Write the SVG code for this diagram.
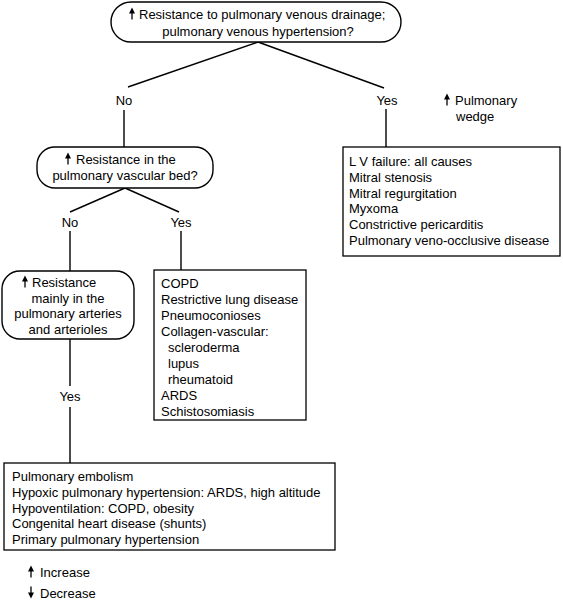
<svg xmlns="http://www.w3.org/2000/svg" width="563" height="601" viewBox="0 0 563 601">
<style>
text{font-family:"Liberation Sans",Arial,sans-serif;font-size:13px;fill:#000}
.c{text-anchor:middle}
.n{fill:#fff;stroke:#000;stroke-width:1.4}
.b{fill:#fff;stroke:#000;stroke-width:1.3}
.l{stroke:#000;stroke-width:1.4;fill:none}
.as{stroke:#000;stroke-width:1.3}
</style>
<defs>
<g id="up"><line class="as" x1="0" y1="0.5" x2="0" y2="-7"/><polygon points="-3,-5.5 0,-11.5 3,-5.5" fill="#000"/></g>
<g id="down"><line class="as" x1="0" y1="-11.5" x2="0" y2="-4"/><polygon points="-3,-5.5 0,0.5 3,-5.5" fill="#000"/></g>
</defs>
<rect width="563" height="601" fill="#fff"/>
<g id="connectors">
<path class="l" d="M258,42 L128,87 M258,42 L384,88 M124,110 V147 M386,109 V147 M125,188 L70,212 M125,188 L179,212 M70,231 V271 M181,231 V270 M70,339 V386 M70,407 V463"/>
</g>
<g id="q1">
<rect class="n" x="111" y="2" width="290" height="40" rx="20"/>
<use href="#up" x="132" y="19"/>
<text x="139" y="19">Resistance to pulmonary venous drainage;</text>
<text class="c" x="258" y="36">pulmonary venous hypertension?</text>
</g>
<g id="lab-no1"><text class="c" x="124" y="105">No</text></g>
<g id="lab-yes1"><text class="c" x="387" y="105">Yes</text></g>
<g id="wedge">
<use href="#up" x="447" y="105"/>
<text x="455" y="105">Pulmonary</text>
<text x="456" y="121">wedge</text>
</g>
<g id="q2">
<rect class="n" x="37" y="147" width="176" height="41" rx="18"/>
<use href="#up" x="68" y="164"/>
<text x="76" y="164">Resistance in the</text>
<text class="c" x="125" y="180">pulmonary vascular bed?</text>
</g>
<g id="box-lv">
<rect class="b" x="343" y="147" width="217" height="109"/>
<text x="349" y="166">L V failure: all causes</text>
<text x="349" y="182">Mitral stenosis</text>
<text x="349" y="198">Mitral regurgitation</text>
<text x="349" y="213">Myxoma</text>
<text x="349" y="229">Constrictive pericarditis</text>
<text x="349" y="245">Pulmonary veno-occlusive disease</text>
</g>
<g id="lab-no2"><text class="c" x="70" y="227">No</text></g>
<g id="lab-yes2"><text class="c" x="181" y="227">Yes</text></g>
<g id="q3">
<rect class="n" x="2" y="271" width="132" height="68" rx="18"/>
<use href="#up" x="25" y="287"/>
<text x="32" y="287">Resistance</text>
<text class="c" x="68" y="302.5">mainly in the</text>
<text class="c" x="68" y="318">pulmonary arteries</text>
<text class="c" x="68" y="333.5">and arterioles</text>
</g>
<g id="box-lung">
<rect class="b" x="154" y="270" width="152" height="150"/>
<text x="161" y="288">COPD</text>
<text x="161" y="304">Restrictive lung disease</text>
<text x="161" y="320">Pneumoconioses</text>
<text x="161" y="336">Collagen-vascular:</text>
<text x="168" y="352">scleroderma</text>
<text x="168" y="368">lupus</text>
<text x="168" y="384">rheumatoid</text>
<text x="161" y="400">ARDS</text>
<text x="161" y="416">Schistosomiasis</text>
</g>
<g id="lab-yes3"><text class="c" x="70" y="401">Yes</text></g>
<g id="box-pe">
<rect class="b" x="4" y="463" width="331" height="87"/>
<text x="12" y="481">Pulmonary embolism</text>
<text x="12" y="497">Hypoxic pulmonary hypertension: ARDS, high altitude</text>
<text x="12" y="513">Hypoventilation: COPD, obesity</text>
<text x="12" y="528">Congenital heart disease (shunts)</text>
<text x="12" y="544">Primary pulmonary hypertension</text>
</g>
<g id="legend">
<use href="#up" x="31" y="577"/>
<text x="40" y="577">Increase</text>
<use href="#down" x="31" y="598"/>
<text x="40" y="598">Decrease</text>
</g>
</svg>
